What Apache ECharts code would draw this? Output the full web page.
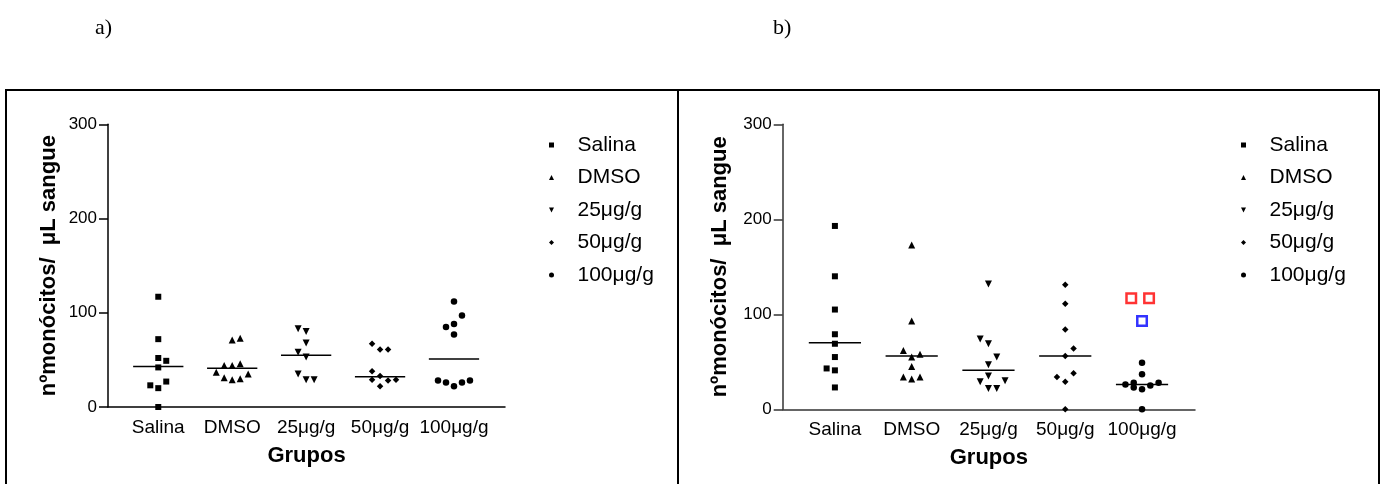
<!DOCTYPE html>
<html>
<head>
<meta charset="utf-8">
<script src="https://cdn.jsdelivr.net/npm/echarts@6/dist/echarts.min.js"></script>
<style>
html,body{margin:0;padding:0;background:#fff;}
#c{width:1381px;height:484px;}
</style>
</head>
<body>
<div id="c"></div>
<script>
// ---------- data ----------
const categories = ['Salina', 'DMSO', '25μg/g', '50μg/g', '100μg/g'];
const yTicks = [0, 100, 200, 300];
const yTitle = 'nºmonócitos/  μL sangue';
const xTitle = 'Grupos';
const panelLabels = ['a)', 'b)'];

// panel a) values per group and the column slot of each dot (-2..2)
const salinaA = [117, 72, 52, 49, 42, 27, 23, 20, 0];
const salinaASlot = [0, 0, 0, 1, 0, 1, -1, 0, 0];
const dmsoA = [71, 73, 44, 44, 46, 37, 35, 31, 29, 30];
const dmsoASlot = [0, 1, -1, 0, 1, -2, 2, -1, 0, 1];
const d25A = [83, 80, 68, 58, 53, 35, 29, 29];
const d25ASlot = [-1, 0, 0, -1, 0, -1, 0, 1];
const d50A = [67, 61, 61, 38, 33, 29, 28, 29, 22];
const d50ASlot = [-1, 0, 1, -1, 0, -1, 1, 2, 0];
const d100A = [112, 97, 88, 85, 77, 28, 26, 22, 26, 28];
const d100ASlot = [0, 1, 0, -1, 0, -2, -1, 0, 1, 2];
const medianA = [43, 41, 55, 32, 51];

// panel b)
const salinaB = [193, 140, 105, 79, 69, 55, 43, 41, 23];
const salinaBSlot = [0, 0, 0, 0, 0, 0, -1, 0, 0];
const dmsoB = [173, 93, 62, 58, 55, 45, 34, 32, 34];
const dmsoBSlot = [0, 0, -1, 1, 0, 0, -1, 0, 1];
const d25B = [132, 74, 69, 55, 47, 35, 29, 30, 22, 22];
const d25BSlot = [0, -1, 0, 1, 0, 0, -1, 2, 0, 1];
const d50B = [131, 111, 84, 64, 56, 38, 34, 29, 0];
const d50BSlot = [0, 0, 0, 1, 0, 1, -1, 0, 0];
const d100B = [49, 37, 26, 28, 23, 21, 25, 28, 0];
const d100BSlot = [0, 0, -2, -1, -1, 0, 1, 2, 0];
const medianB = [70, 56, 41, 56, 26];
// highlighted points in the 100μg/g column of panel b)
const redSquaresB = [117, 117];
const redSquaresBSlot = [-1.3, 0.85];
const blueSquaresB = [93];
const blueSquaresBSlot = [0];

// ---------- build ----------
const FONT = '"Liberation Sans", Arial, sans-serif';
const SLOT = 0.108;      // x spread of one column slot (axis units)
const HALF = 0.34;       // half-width of median line (axis units)
const symbols = ['rect', 'triangle', 'path://M0,0L10,0L5,10Z', 'diamond', 'circle'];
const legendIcons = [
  'path://M0,0L10,0L10,10L0,10Z',
  'path://M5,0L10,10L0,10Z',
  'path://M0,0L10,0L5,10Z',
  'path://M5,0L10,5L5,10L0,5Z',
  'path://M5,0A5,5 0 1 1 5,10A5,5 0 1 1 5,0Z'
];
const sizes = [6, 7, 7, 6.5, 6.5];

const panelA = [[salinaA, salinaASlot], [dmsoA, dmsoASlot], [d25A, d25ASlot], [d50A, d50ASlot], [d100A, d100ASlot]];
const panelB = [[salinaB, salinaBSlot], [dmsoB, dmsoBSlot], [d25B, d25BSlot], [d50B, d50BSlot], [d100B, d100BSlot]];

function pts(vals, slots, gi) {
  return vals.map((v, i) => [gi + 1 + slots[i] * SLOT, v]);
}

const series = [];
function addPanel(panel, medians, idx) {
  panel.forEach((g, gi) => {
    series.push({
      type: 'scatter', name: categories[gi], xAxisIndex: idx, yAxisIndex: idx,
      symbol: symbols[gi], symbolSize: sizes[gi],
      itemStyle: { color: '#000', opacity: 1 },
      data: pts(g[0], g[1], gi), z: 3
    });
    series.push({
      type: 'line', name: 'mediana', xAxisIndex: idx, yAxisIndex: idx,
      symbol: 'none', silent: true, z: 2,
      lineStyle: { color: '#000', width: 1.5 },
      data: [[gi + 1 - HALF, medians[gi]], [gi + 1 + HALF, medians[gi]]]
    });
  });
}
addPanel(panelA, medianA, 0);
addPanel(panelB, medianB, 1);
series.push({
  type: 'scatter', name: 'destaque vermelho', xAxisIndex: 1, yAxisIndex: 1,
  symbol: 'rect', symbolSize: 9.5,
  itemStyle: { color: 'rgba(0,0,0,0)', borderColor: '#ff0000', borderWidth: 2.5 },
  data: pts(redSquaresB, redSquaresBSlot, 4), z: 4
});
series.push({
  type: 'scatter', name: 'destaque azul', xAxisIndex: 1, yAxisIndex: 1,
  symbol: 'rect', symbolSize: 9.5,
  itemStyle: { color: 'rgba(0,0,0,0)', borderColor: '#0000ff', borderWidth: 2.5 },
  data: pts(blueSquaresB, blueSquaresBSlot, 4), z: 4
});

function xAxis(idx, color) {
  return {
    type: 'value', gridIndex: idx, min: 0.32, max: 5.69,
    splitLine: { show: false },
    axisLine: { show: true, onZero: false, lineStyle: { color: color, width: 1.5 } },
    axisTick: { show: false },
    axisLabel: {
      customValues: [1, 2, 3, 4, 5],
      formatter: v => categories[Math.round(v) - 1] || '',
      fontSize: 19, color: '#000', margin: 11, fontFamily: FONT
    },
    name: xTitle, nameLocation: 'middle', nameGap: 38,
    nameTextStyle: { fontSize: 22, fontWeight: 'bold', color: '#000', fontFamily: FONT }
  };
}
function yAxis(idx, color, gap) {
  return {
    type: 'value', gridIndex: idx, min: yTicks[0], max: yTicks[yTicks.length - 1], interval: 100,
    splitLine: { show: false },
    axisLine: { show: true, lineStyle: { color: color, width: 1.5 } },
    axisTick: { show: true, length: 9, lineStyle: { color: color, width: 1.5 } },
    axisLabel: { fontSize: 17, color: '#000', margin: 11, fontFamily: FONT },
    name: yTitle, nameLocation: 'middle', nameRotate: 90, nameGap: gap,
    nameTextStyle: { fontSize: 22, fontWeight: 'bold', color: '#000', fontFamily: FONT }
  };
}
function legend(left) {
  return {
    data: categories.map((c, i) => ({ name: c, icon: legendIcons[i] })),
    orient: 'vertical', left: left, top: 134, padding: 0,
    itemWidth: 42, itemHeight: 5, itemGap: 10.5,
    symbolKeepAspect: true,
    selectedMode: false,
    itemStyle: { color: '#000' },
    textStyle: { fontSize: 21, lineHeight: 22, color: '#000', fontFamily: FONT }
  };
}

const option = {
  animation: false,
  backgroundColor: '#fff',
  textStyle: { fontFamily: FONT },
  title: [
    { text: panelLabels[0], left: 95, top: 17, padding: 0,
      textStyle: { fontFamily: '"Liberation Serif", "Times New Roman", serif', fontSize: 22, fontWeight: 'normal', color: '#000' } },
    { text: panelLabels[1], left: 773, top: 17, padding: 0,
      textStyle: { fontFamily: '"Liberation Serif", "Times New Roman", serif', fontSize: 22, fontWeight: 'normal', color: '#000' } }
  ],
  grid: [
    { left: 108, top: 124.3, width: 397, height: 282.7 },
    { left: 782.7, top: 124.3, width: 412.3, height: 285 }
  ],
  xAxis: [xAxis(0, '#000'), xAxis(1, '#333')],
  yAxis: [yAxis(0, '#000', 48.5), yAxis(1, '#333', 51.5)],
  legend: [legend(549), legend(1241)],
  graphic: [
    { type: 'rect', silent: true, shape: { x: 6, y: 90, width: 672, height: 420 },
      style: { fill: 'none', stroke: '#000', lineWidth: 2 } },
    { type: 'rect', silent: true, shape: { x: 678, y: 90, width: 701, height: 420 },
      style: { fill: 'none', stroke: '#000', lineWidth: 2 } }
  ],
  series: series
};

const chart = echarts.init(document.getElementById('c'), null, { renderer: 'canvas' });
chart.setOption(option);
</script>
</body>
</html>
